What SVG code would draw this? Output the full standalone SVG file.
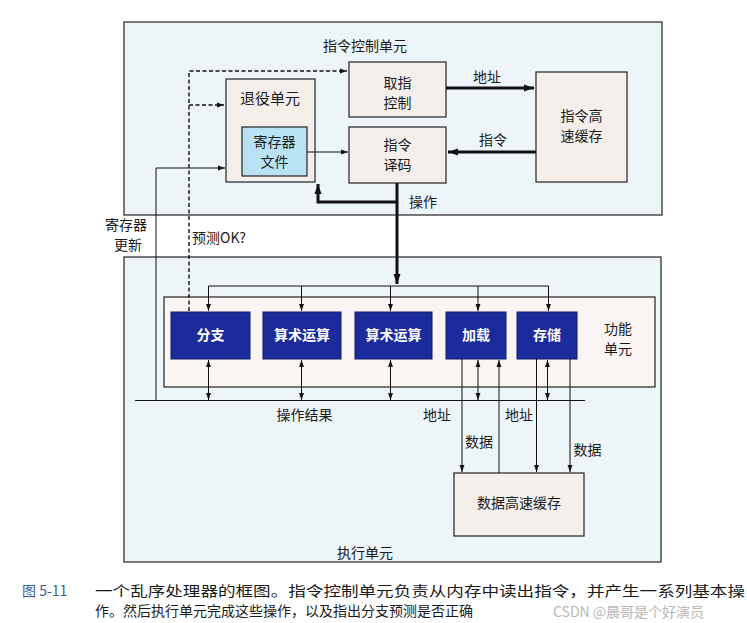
<svg xmlns="http://www.w3.org/2000/svg" width="747" height="623" viewBox="0 0 747 623">
<style>
  text { font-family: "Noto Sans CJK SC", "Noto Sans", sans-serif; fill: #1a1a1a; }
  .lbl { font-size: 14px; text-anchor: middle; }
  .fu { font-size: 14px; font-weight: bold; fill: #ffffff; text-anchor: middle; }
  .unit { fill: #eef5f9; stroke: #222; stroke-width: 1.2; }
  .box { fill: #f5efec; stroke: #222; stroke-width: 1.2; }
  .fubox { fill: #1b2b9c; stroke: #101a66; stroke-width: 1; }
  .thin { fill: none; stroke: #111; stroke-width: 1; }
  .thick { fill: none; stroke: #111; stroke-width: 3; }
  .dash { fill: none; stroke: #111; stroke-width: 1.4; stroke-dasharray: 4 2.5; }
  .cap { font-size: 14px; }
</style>
<defs>
  <marker id="a" viewBox="0 0 10 10" refX="10" refY="5" markerWidth="7" markerHeight="7" orient="auto-start-reverse" markerUnits="userSpaceOnUse">
    <path d="M0,1.5 L10,5 L0,8.5 z" fill="#111"/>
  </marker>
  <marker id="ab" viewBox="0 0 10 10" refX="10" refY="5" markerWidth="10" markerHeight="10" orient="auto-start-reverse" markerUnits="userSpaceOnUse">
    <path d="M0,1.5 L10,5 L0,8.5 z" fill="#111"/>
  </marker>
</defs>
<rect x="0" y="0" width="747" height="623" fill="#ffffff"/>

<g id="icu">
  <rect class="unit" x="124" y="22" width="538" height="193"/>
  <text class="lbl" x="365" y="51">指令控制单元</text>
</g>
<g id="eu">
  <rect class="unit" x="124" y="257" width="537" height="305"/>
  <text class="lbl" x="365" y="558">执行单元</text>
</g>

<g id="fetch">
  <rect class="box" x="349" y="62" width="97" height="55"/>
  <text class="lbl" x="397.5" y="87.5">取指</text>
  <text class="lbl" x="397.5" y="107.5">控制</text>
</g>
<g id="retire">
  <rect class="box" x="226" y="79" width="89" height="103"/>
  <text class="lbl" x="270" y="104" style="font-size:15px">退役单元</text>
</g>
<g id="regfile">
  <rect x="242" y="127" width="65" height="49" fill="#b9e3f3" stroke="#222" stroke-width="1.2"/>
  <text class="lbl" x="274.5" y="147">寄存器</text>
  <text class="lbl" x="274.5" y="167">文件</text>
</g>
<g id="decode">
  <rect class="box" x="349" y="127" width="97" height="56"/>
  <text class="lbl" x="397.5" y="149.5">指令</text>
  <text class="lbl" x="397.5" y="169.5">译码</text>
</g>
<g id="icache">
  <rect class="box" x="536" y="72" width="91" height="110"/>
  <text class="lbl" x="581.5" y="121">指令高</text>
  <text class="lbl" x="581.5" y="141">速缓存</text>
</g>

<g id="fu-area">
  <rect x="164" y="297" width="491" height="90" fill="#faf4f2" stroke="#222" stroke-width="1.2"/>
  <text class="lbl" x="618" y="334">功能</text>
  <text class="lbl" x="618" y="354">单元</text>
</g>
<g id="branch">
  <rect class="fubox" x="171" y="312" width="79" height="47"/>
  <text class="fu" x="210.5" y="340">分支</text>
</g>
<g id="alu1">
  <rect class="fubox" x="263" y="312" width="78" height="47"/>
  <text class="fu" x="302" y="340">算术运算</text>
</g>
<g id="alu2">
  <rect class="fubox" x="355" y="312" width="77" height="47"/>
  <text class="fu" x="393.5" y="340">算术运算</text>
</g>
<g id="load">
  <rect class="fubox" x="446" y="312" width="60" height="47"/>
  <text class="fu" x="476" y="340">加载</text>
</g>
<g id="store">
  <rect class="fubox" x="517" y="312" width="60" height="47"/>
  <text class="fu" x="547" y="340">存储</text>
</g>
<g id="dcache">
  <rect class="box" x="454" y="473" width="130" height="63"/>
  <text class="lbl" x="519" y="508">数据高速缓存</text>
</g>

<g id="connectors">
  <line class="thick" x1="446" y1="88" x2="534" y2="88" marker-end="url(#ab)"/>
  <line class="thick" x1="536" y1="152" x2="448" y2="152" marker-end="url(#ab)"/>
  <line class="thin" x1="307" y1="152" x2="348" y2="152" marker-end="url(#a)"/>
  <line class="thick" x1="397" y1="183" x2="397" y2="284" marker-end="url(#ab)"/>
  <polyline class="thick" points="397,202 318,202 318,184" marker-end="url(#ab)"/>
  <line class="thin" x1="208.5" y1="286" x2="548.5" y2="286"/>
  <line class="thin" x1="208.5" y1="286" x2="208.5" y2="311" marker-end="url(#a)"/>
  <line class="thin" x1="301.5" y1="286" x2="301.5" y2="311" marker-end="url(#a)"/>
  <line class="thin" x1="390.5" y1="286" x2="390.5" y2="311" marker-end="url(#a)"/>
  <line class="thin" x1="478" y1="286" x2="478" y2="311" marker-end="url(#a)"/>
  <line class="thin" x1="548.5" y1="286" x2="548.5" y2="311" marker-end="url(#a)"/>
  <line class="thin" x1="135" y1="400.5" x2="585" y2="400.5"/>
  <line class="thin" x1="208.5" y1="360" x2="208.5" y2="400" marker-start="url(#a)" marker-end="url(#a)"/>
  <line class="thin" x1="301.5" y1="360" x2="301.5" y2="400" marker-start="url(#a)" marker-end="url(#a)"/>
  <line class="thin" x1="390.5" y1="360" x2="390.5" y2="400" marker-start="url(#a)" marker-end="url(#a)"/>
  <line class="thin" x1="478" y1="360" x2="478" y2="400" marker-start="url(#a)" marker-end="url(#a)"/>
  <line class="thin" x1="547.5" y1="360" x2="547.5" y2="400" marker-start="url(#a)" marker-end="url(#a)"/>
  <polyline class="thin" points="156,400.5 156,168 225,168" marker-end="url(#a)"/>
  <polyline class="dash" points="189,311 189,71 347,71" marker-end="url(#a)"/>
  <line class="dash" x1="189" y1="105" x2="224" y2="105" marker-end="url(#a)"/>
  <line class="thin" x1="462" y1="359" x2="462" y2="472" marker-end="url(#a)"/>
  <line class="thin" x1="499" y1="473" x2="499" y2="360" marker-end="url(#a)"/>
  <line class="thin" x1="536.5" y1="359" x2="536.5" y2="472" marker-end="url(#a)"/>
  <line class="thin" x1="570" y1="359" x2="570" y2="472" marker-end="url(#a)"/>
</g>

<g id="labels">
  <text class="lbl" x="487" y="82">地址</text>
  <text class="lbl" x="493" y="145">指令</text>
  <text class="lbl" x="423" y="207">操作</text>
  <text class="lbl" x="126" y="229.5">寄存器</text>
  <text class="lbl" x="128" y="249.5">更新</text>
  <text x="192" y="243" style="font-size:14px">预测OK?</text>
  <text class="lbl" x="304.5" y="420">操作结果</text>
  <text class="lbl" x="437" y="420">地址</text>
  <text class="lbl" x="519" y="420">地址</text>
  <text class="lbl" x="479" y="447">数据</text>
  <text class="lbl" x="587.5" y="455">数据</text>
</g>

<g id="caption">
  <text class="cap" x="22" y="596" style="fill:#3b5a9e">图 5-11</text>
  <text class="cap" x="95" y="596" textLength="650" lengthAdjust="spacingAndGlyphs">一个乱序处理器的框图。指令控制单元负责从内存中读出指令，并产生一系列基本操</text>
  <text class="cap" x="95" y="616">作。然后执行单元完成这些操作，以及指出分支预测是否正确</text>
  <text x="553" y="617" style="font-size:14px;fill:#b8b8b8">CSDN @晨哥是个好演员</text>
</g>
</svg>
